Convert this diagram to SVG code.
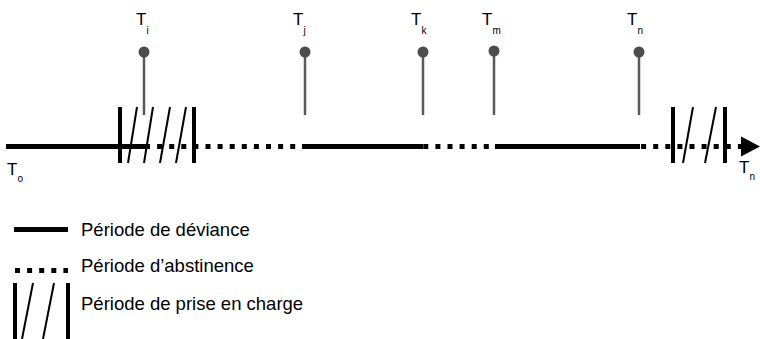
<svg xmlns="http://www.w3.org/2000/svg" width="760" height="339" viewBox="0 0 760 339">
<style>
.solid{stroke:#000;stroke-width:5;fill:none}
.dot{stroke:#000;stroke-width:5;fill:none;stroke-dasharray:5 7.1}
.bar{stroke:#000;stroke-width:4}
.diag{stroke:#000;stroke-width:2}
.stem{stroke:#595959;stroke-width:2.5}
.pin{fill:#4d4d4d}
.t{font-family:"Liberation Sans",Arial,sans-serif;font-size:17px;fill:#000}
.s{font-family:"Liberation Sans",Arial,sans-serif;font-size:10px;fill:#000}
.leg{font-family:"Liberation Sans",Arial,sans-serif;font-size:18.5px;fill:#000}
</style>
<g id="timeline">
<line class="dot" x1="145" y1="146.5" x2="741" y2="146.5"/>
<line class="solid" x1="6" y1="146.5" x2="146" y2="146.5"/>
<line class="solid" x1="302" y1="146.5" x2="423" y2="146.5"/>
<line class="solid" x1="495" y1="146.5" x2="640" y2="146.5"/>
<polygon points="741,136.5 760,146.5 741,156.5" fill="#000"/>
</g>
<g id="care1">
<line class="bar" x1="120" y1="107" x2="120" y2="163"/>
<line class="bar" x1="194" y1="107" x2="194" y2="163"/>
<line class="diag" x1="128" y1="163" x2="137" y2="107"/>
<line class="diag" x1="144" y1="163" x2="153" y2="107"/>
<line class="diag" x1="160" y1="163" x2="170" y2="107"/>
<line class="diag" x1="176" y1="163" x2="186" y2="107"/>
</g>
<g id="care2">
<line class="bar" x1="673" y1="107" x2="673" y2="163"/>
<line class="bar" x1="725" y1="107" x2="725" y2="163"/>
<line class="diag" x1="683" y1="163" x2="693" y2="107"/>
<line class="diag" x1="705" y1="163" x2="716" y2="107"/>
</g>
<g id="connectors">
<line class="stem" x1="144" y1="52" x2="144" y2="115"/>
<line class="stem" x1="305" y1="52" x2="305" y2="115"/>
<line class="stem" x1="423" y1="52" x2="423" y2="115"/>
<line class="stem" x1="494" y1="51" x2="494" y2="115"/>
<line class="stem" x1="639" y1="52" x2="639" y2="115"/>
</g>
<g id="Ti"><circle class="pin" cx="144" cy="52" r="5.5"/><text class="t" x="136" y="25">T</text><text class="s" x="146.5" y="34">i</text></g>
<g id="Tj"><circle class="pin" cx="305" cy="52" r="5.5"/><text class="t" x="293" y="25">T</text><text class="s" x="303.5" y="34">j</text></g>
<g id="Tk"><circle class="pin" cx="423" cy="52" r="5.5"/><text class="t" x="411" y="25">T</text><text class="s" x="421.5" y="34">k</text></g>
<g id="Tm"><circle class="pin" cx="494" cy="51" r="5.5"/><text class="t" x="482" y="25">T</text><text class="s" x="492.5" y="34">m</text></g>
<g id="Tn"><circle class="pin" cx="639" cy="52" r="5.5"/><text class="t" x="627" y="25">T</text><text class="s" x="637.5" y="34">n</text></g>
<g id="To"><text class="t" x="7" y="175">T</text><text class="s" x="17.5" y="182">o</text></g>
<g id="Tend"><text class="t" x="739" y="173">T</text><text class="s" x="749.5" y="180">n</text></g>
<g id="legend">
<line class="solid" x1="14" y1="229.5" x2="68" y2="229.5"/>
<text class="leg" x="81" y="236">Période de déviance</text>
<line class="dot" x1="15" y1="270.5" x2="68" y2="270.5"/>
<text class="leg" x="81" y="272">Période d’abstinence</text>
<line class="bar" x1="15" y1="283" x2="15" y2="339"/>
<line class="bar" x1="68" y1="283" x2="68" y2="339"/>
<line class="diag" x1="22" y1="339" x2="33" y2="283"/>
<line class="diag" x1="43" y1="339" x2="54" y2="283"/>
<text class="leg" x="81" y="310">Période de prise en charge</text>
</g>
</svg>
